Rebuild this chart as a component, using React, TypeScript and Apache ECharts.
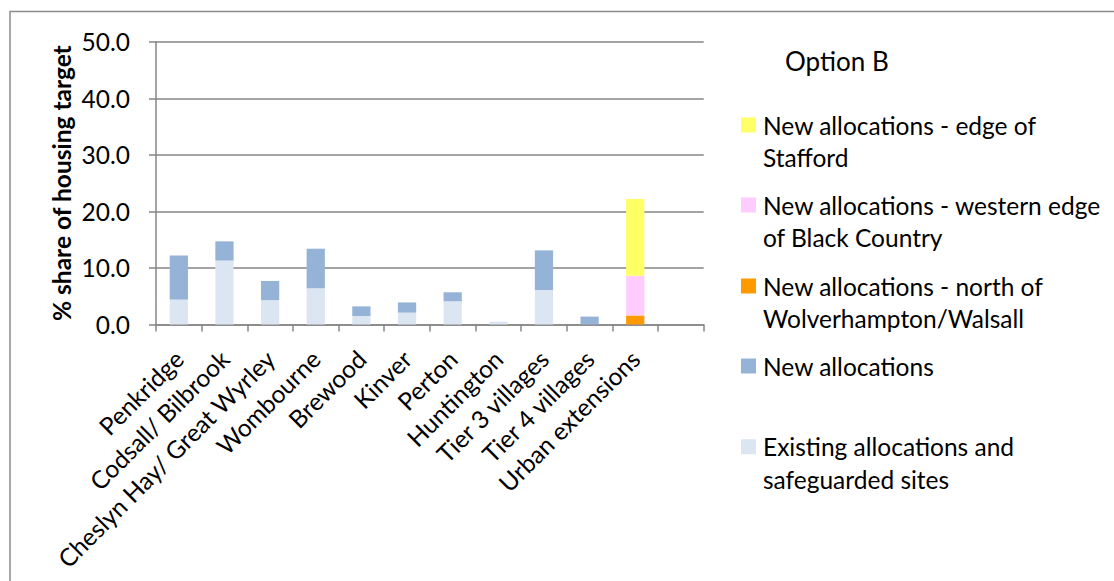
import React, { useEffect, useRef } from "react";
import * as echarts from "echarts";

const categories = [
  "Penkridge",
  "Codsall/ Bilbrook",
  "Cheslyn Hay/ Great Wyrley",
  "Wombourne",
  "Brewood",
  "Kinver",
  "Perton",
  "Huntington",
  "Tier 3 villages",
  "Tier 4 villages",
  "Urban extensions",
  "",
];

const existingAllocations = [4.4, 11.3, 4.3, 6.4, 1.5, 2.1, 4.1, 0.5, 6.1, 0, 0, 0];
const newAllocations = [7.8, 3.4, 3.4, 7.0, 1.7, 1.8, 1.6, 0, 7.0, 1.4, 0, 0];
const northWolverhampton = [0, 0, 0, 0, 0, 0, 0, 0, 0, 0, 1.6, 0];
const westernEdge = [0, 0, 0, 0, 0, 0, 0, 0, 0, 0, 7.0, 0];
const edgeStafford = [0, 0, 0, 0, 0, 0, 0, 0, 0, 0, 13.6, 0];

const yTicks = [0, 10, 20, 30, 40, 50];

const seriesNames = {
  existing: "Existing allocations and safeguarded sites",
  newAlloc: "New allocations",
  north: "New allocations - north of Wolverhampton/Walsall",
  western: "New allocations - western edge of Black Country",
  stafford: "New allocations - edge of Stafford",
};

const legendWrapped: Record<string, string> = {
  [seriesNames.stafford]: "New allocations - edge of\nStafford",
  [seriesNames.western]: "New allocations - western edge\nof Black Country",
  [seriesNames.north]: "New allocations - north of\nWolverhampton/Walsall",
  [seriesNames.newAlloc]: "New allocations",
  [seriesNames.existing]: "Existing allocations and\nsafeguarded sites",
};

const COLORS = {
  existing: "#DCE6F2",
  newAlloc: "#95B3D7",
  north: "#FF9900",
  western: "#FFCCFF",
  stafford: "#FFFF66",
};

const FONT = "Lato";
const FS = 24.5;
const AXIS_COLOR = "#868686";

export default function App() {
  const ref = useRef<HTMLDivElement>(null);

  useEffect(() => {
    if (!ref.current) return;
    const chart = echarts.init(ref.current, undefined, { renderer: "svg" });

    const tallIcon = "path://M0,0H15V15H0Z M0,47.7L0.001,47.7";
    const LH = 32.7;
    const mkLegend = (name: string, squareTop: number, twoLine: boolean) => ({
      show: true,
      orient: "vertical",
      left: 741,
      top: squareTop - (LH / 2 - 7.5),
      padding: 0,
      itemWidth: 15,
      itemHeight: twoLine ? 47.7 : 15,
      selectedMode: false,
      data: [{ name, icon: twoLine ? tallIcon : "rect" }],
      formatter: (n: string) => legendWrapped[n] ?? n,
      textStyle: {
        fontFamily: FONT,
        fontSize: FS,
        color: "#000",
        lineHeight: LH,
        padding: [0, 0, 0, 2],
      },
    });

    const mkSeries = (name: string, data: number[], color: string) => ({
      name,
      type: "bar",
      stack: "total",
      data,
      barCategoryGap: "60%",
      itemStyle: { color },
      emphasis: { disabled: true },
    });

    chart.setOption({
      animation: false,
      backgroundColor: "#fff",
      textStyle: { fontFamily: FONT },
      grid: {
        left: 156,
        right: 410.3,
        top: 41.7,
        bottom: 256.5,
        containLabel: false,
      },
      title: {
        text: "Option B",
        left: 785,
        top: 48,
        padding: 0,
        textStyle: { fontFamily: FONT, fontSize: 26, fontWeight: "normal", color: "#000" },
      },
      legend: [
        mkLegend(seriesNames.stafford, 117.5, true),
        mkLegend(seriesNames.western, 197.5, true),
        mkLegend(seriesNames.north, 278.5, true),
        mkLegend(seriesNames.newAlloc, 358.5, false),
        mkLegend(seriesNames.existing, 439.2, true),
      ],
      xAxis: {
        type: "category",
        data: categories,
        boundaryGap: true,
        axisLine: { lineStyle: { color: AXIS_COLOR, width: 1.5 } },
        axisTick: { show: true, length: 7, lineStyle: { color: AXIS_COLOR, width: 1.5 } },
        axisLabel: {
          rotate: 45,
          interval: 0,
          margin: 30,
          fontFamily: FONT,
          fontSize: FS,
          color: "#000",
        },
      },
      yAxis: {
        type: "value",
        min: yTicks[0],
        max: yTicks[yTicks.length - 1],
        interval: 10,
        name: "% share of housing target",
        nameLocation: "middle",
        nameGap: 82,
        nameRotate: 90,
        nameTextStyle: { fontFamily: FONT, fontSize: 24.5, fontWeight: "bold", color: "#000" },
        axisLine: { show: true, lineStyle: { color: AXIS_COLOR, width: 1.5 } },
        axisTick: { show: true, length: 7, lineStyle: { color: AXIS_COLOR, width: 1.5 } },
        splitLine: { show: true, lineStyle: { color: AXIS_COLOR, width: 1.5 } },
        axisLabel: {
          formatter: (v: number) => v.toFixed(1),
          fontFamily: FONT,
          fontSize: FS,
          color: "#000",
          margin: 26,
        },
      },
      graphic: [
        {
          type: "rect",
          shape: { x: 10, y: 11.5, width: 1300, height: 800 },
          style: { fill: "none", stroke: "#8c8c8c", lineWidth: 1.5 },
          silent: true,
          z: -10,
        },
      ],
      series: [
        mkSeries(seriesNames.existing, existingAllocations, COLORS.existing),
        mkSeries(seriesNames.newAlloc, newAllocations, COLORS.newAlloc),
        mkSeries(seriesNames.north, northWolverhampton, COLORS.north),
        mkSeries(seriesNames.western, westernEdge, COLORS.western),
        mkSeries(seriesNames.stafford, edgeStafford, COLORS.stafford),
      ],
    });

    return () => chart.dispose();
  }, []);

  return (
    <div
      ref={ref}
      style={{ position: "absolute", left: 0, top: 0, width: 1114, height: 581 }}
    />
  );
}
